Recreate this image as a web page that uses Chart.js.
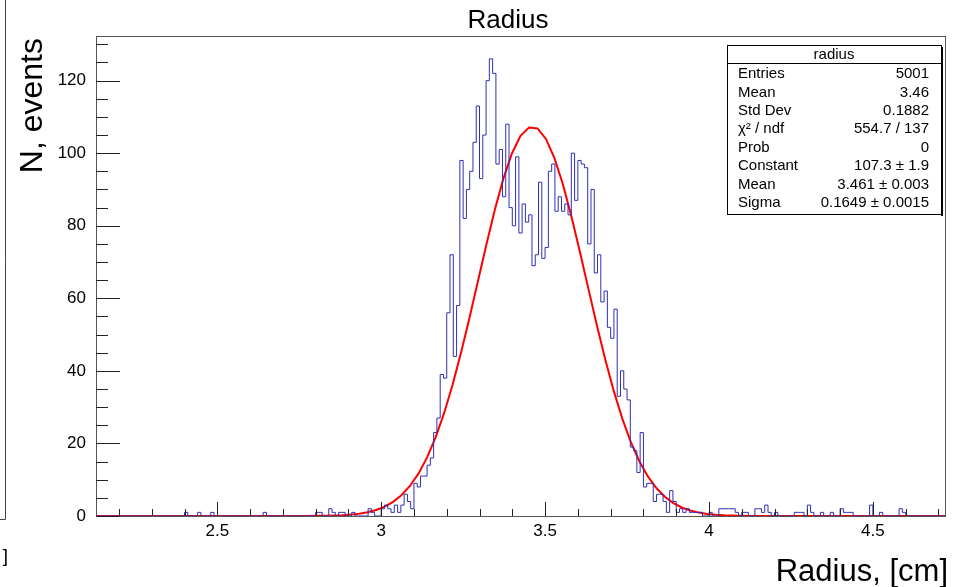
<!DOCTYPE html>
<html>
<head>
<meta charset="utf-8">
<script src="https://cdn.jsdelivr.net/npm/chart.js@4.4.0/dist/chart.umd.min.js"></script>
<style>
    html, body { margin: 0; padding: 0; background: #fff; }
    #wrap { width: 956px; height: 587px; }
</style>
</head>
<body>
<div id="wrap"><canvas id="radius-chart" width="956" height="587"></canvas></div>
<script>
// histogram binning (bin i covers binLow + i*binWidth .. + binWidth)
const binLow = 2.13;
const binWidth = 0.01;
const counts = [
    0, 0, 0, 0, 0, 0, 0, 0, 0, 0,
    0, 0, 0, 0, 0, 0, 0, 0, 0, 0,
    0, 0, 0, 0, 0, 0, 0, 1, 0, 0,
    0, 1, 0, 0, 0, 1, 0, 0, 0, 0,
    0, 0, 0, 0, 0, 0, 0, 0, 0, 0,
    0, 1, 0, 0, 0, 0, 0, 0, 0, 0,
    0, 0, 0, 0, 0, 0, 0, 1, 1, 0,
    0, 2, 1, 0, 1, 1, 0, 0, 1, 0,
    0, 0, 0, 2, 1, 0, 0, 2, 3, 2,
    1, 3, 1, 3, 6, 4, 2, 9, 8, 11,
    11, 14, 16, 23, 27, 39, 38, 56, 72, 44,
    58, 98, 82, 90, 95, 103, 113, 93, 105, 120,
    126, 122, 97, 101, 88, 108, 85, 80, 99, 78,
    86, 81, 83, 69, 72, 92, 71, 74, 95, 97,
    84, 88, 84, 86, 83, 100, 87, 98, 97, 96,
    75, 90, 67, 72, 59, 62, 52, 49, 57, 33,
    40, 35, 32, 19, 18, 12, 23, 8, 9, 9,
    4, 6, 6, 4, 1, 7, 4, 1, 2, 1,
    2, 1, 1, 1, 1, 0, 0, 1, 0, 0,
    2, 2, 2, 2, 2, 1, 0, 1, 1, 0,
    0, 2, 2, 1, 3, 1, 0, 1, 0, 0,
    0, 0, 0, 1, 1, 1, 0, 3, 1, 0,
    0, 1, 0, 0, 1, 0, 0, 2, 1, 1,
    1, 0, 0, 0, 0, 0, 3, 0, 0, 1,
    0, 0, 0, 0, 0, 2, 1, 0, 0, 0,
    0, 0, 0, 0, 0, 0, 0, 0, 0
];

// gaus fit parameters, as printed in the stats box
const fitConstant = 107.3;
const fitMean = 3.461;
const fitSigma = 0.1649;

const xMin = 2.13;
const xMax = 4.72;
const yMax = 132.3;

const xMajorTicks = [2.5, 3, 3.5, 4, 4.5];
const xTickLabels = ['2.5', '3', '3.5', '4', '4.5'];
const xMinorTicks = [2.2, 2.3, 2.4, 2.6, 2.7, 2.8, 2.9, 3.1, 3.2, 3.3, 3.4, 3.6, 3.7, 3.8, 3.9,
    4.1, 4.2, 4.3, 4.4, 4.6, 4.7];
const yMajorTicks = [0, 20, 40, 60, 80, 100, 120];
const yTickLabels = ['0', '20', '40', '60', '80', '100', '120'];
const yMinorTicks = [5, 10, 15, 25, 30, 35, 45, 50, 55, 65, 70, 75, 85, 90, 95, 105, 110, 115, 125, 130];

const statsTitle = 'radius';
const statsLabels = ['Entries', 'Mean', 'Std Dev', 'χ² / ndf', 'Prob', 'Constant', 'Mean', 'Sigma'];
const statsValues = ['5001', '3.46', '0.1882', '554.7 / 137', '0', '107.3 ± 1.9', '3.461 ± 0.003', '0.1649 ± 0.0015'];

// step outline: one point per lower bin edge, plus the last upper edge
let histPoints = counts.map((c, i) => ({ x: binLow + i * binWidth, y: c }));
histPoints.push({ x: binLow + counts.length * binWidth, y: counts[counts.length - 1] });

// fitted function, sampled like ROOT does (100 points)
let fitPoints = [];
for (let i = 0; i <= 100; i++) {
    let x = xMin + (xMax - xMin) * i / 100;
    let z = (x - fitMean) / fitSigma;
    fitPoints.push({ x: x, y: fitConstant * Math.exp(-0.5 * z * z) });
}

const FONT = "'Liberation Sans', Arial, Helvetica, sans-serif";

const rootDecor = {
    id: 'rootDecor',
    afterDraw(chart) {
        let ctx = chart.ctx;
        let a = chart.chartArea;
        let xs = chart.scales.x;
        let ys = chart.scales.y;
        ctx.save();

        // frame
        ctx.strokeStyle = '#555';
        ctx.lineWidth = 1;
        ctx.strokeRect(a.left + 0.5, a.top + 0.5, a.right - a.left, a.bottom - a.top);

        // ticks, drawn inside the frame
        ctx.strokeStyle = '#222';
        ctx.beginPath();
        yMajorTicks.forEach(v => {
            let y = Math.round(ys.getPixelForValue(v)) + 0.5;
            ctx.moveTo(a.left, y); ctx.lineTo(a.left + 24, y);
        });
        yMinorTicks.forEach(v => {
            let y = Math.round(ys.getPixelForValue(v)) + 0.5;
            ctx.moveTo(a.left, y); ctx.lineTo(a.left + 12, y);
        });
        xMajorTicks.forEach(v => {
            let x = Math.round(xs.getPixelForValue(v)) + 0.5;
            ctx.moveTo(x, a.bottom); ctx.lineTo(x, a.bottom - 14);
        });
        xMinorTicks.forEach(v => {
            let x = Math.round(xs.getPixelForValue(v)) + 0.5;
            ctx.moveTo(x, a.bottom); ctx.lineTo(x, a.bottom - 7);
        });
        ctx.stroke();

        // titles
        ctx.fillStyle = '#000';
        ctx.textBaseline = 'middle';
        ctx.font = '26px ' + FONT;
        ctx.textAlign = 'center';
        ctx.fillText('Radius', 508, 21);

        ctx.font = '31px ' + FONT;
        ctx.textAlign = 'right';
        ctx.fillText('Radius, [cm]', 948, 572);

        ctx.save();
        ctx.translate(33, 38);
        ctx.rotate(-Math.PI / 2);
        ctx.font = '32px ' + FONT;
        ctx.textAlign = 'right';
        ctx.fillText('N, events', 0, 0);
        ctx.restore();

        // edge of the neighbouring pad
        ctx.strokeStyle = '#444';
        ctx.beginPath();
        ctx.moveTo(5.5, 0); ctx.lineTo(5.5, 519.5); ctx.lineTo(0, 519.5);
        ctx.stroke();
        ctx.font = '19px ' + FONT;
        ctx.textAlign = 'right';
        ctx.fillText(']', 8, 557);

        // stats box
        let bx = 727, by = 45, bw = 214, bh = 169;
        ctx.fillStyle = '#fff';
        ctx.fillRect(bx, by, bw, bh);
        ctx.fillStyle = '#000';
        ctx.fillRect(bx + bw, by + 2, 2, bh);
        ctx.fillRect(bx + 2, by + bh, bw, 1);
        ctx.strokeStyle = '#000';
        ctx.strokeRect(bx + 0.5, by + 0.5, bw, bh);
        ctx.beginPath();
        ctx.moveTo(bx, 63.5); ctx.lineTo(bx + bw, 63.5);
        ctx.stroke();

        ctx.font = '15px ' + FONT;
        ctx.textAlign = 'center';
        ctx.fillText(statsTitle, bx + bw / 2, 55);
        statsLabels.forEach((lab, k) => {
            let y = 74 + 18.4 * k;
            ctx.textAlign = 'left';
            ctx.fillText(lab, 738, y);
            ctx.textAlign = 'right';
            ctx.fillText(statsValues[k], 929, y);
        });

        ctx.restore();
    }
};

let ctx = document.getElementById('radius-chart');
let radiusChart = new Chart(ctx, {
    type: 'line',
    data: {
        datasets: [
            {
                label: 'radius',
                data: histPoints,
                stepped: 'before',
                borderColor: '#2f2fb4',
                borderWidth: 1,
                pointRadius: 0,
                fill: false,
            },
            {
                label: 'gaus',
                data: fitPoints,
                borderColor: '#ff0000',
                borderWidth: 2,
                pointRadius: 0,
                tension: 0,
                fill: false,
            }
        ]
    },
    options: {
        responsive: false,
        animation: false,
        devicePixelRatio: 1,
        layout: {
            padding: { top: 36, right: 11, left: 0, bottom: 0 }
        },
        plugins: {
            legend: { display: false },
            title: { display: false },
            tooltip: { enabled: false }
        },
        scales: {
            x: {
                type: 'linear',
                min: xMin,
                max: xMax,
                grid: { display: false, drawTicks: false },
                border: { display: false },
                afterBuildTicks: s => { s.ticks = xMajorTicks.map(v => ({ value: v })); },
                afterFit: s => { s.height = 71; },
                ticks: {
                    autoSkip: false,
                    maxRotation: 0,
                    padding: 5,
                    color: '#000',
                    font: { family: FONT, size: 17 },
                    callback: (v, i) => xTickLabels[i]
                }
            },
            y: {
                type: 'linear',
                min: 0,
                max: yMax,
                grid: { display: false, drawTicks: false },
                border: { display: false },
                afterBuildTicks: s => { s.ticks = yMajorTicks.map(v => ({ value: v })); },
                afterFit: s => { s.width = 96; },
                ticks: {
                    autoSkip: false,
                    padding: 10,
                    color: '#000',
                    font: { family: FONT, size: 17 },
                    callback: (v, i) => yTickLabels[i]
                }
            }
        }
    },
    plugins: [rootDecor]
});
</script>
</body>
</html>
